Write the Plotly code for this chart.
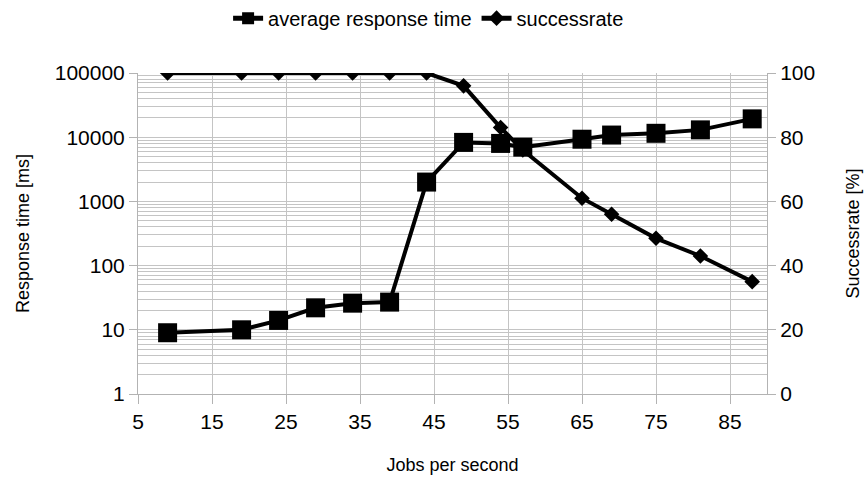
import plotly.graph_objects as go

# Load test results: throughput vs. latency and success rate
jobs_per_second = [9, 19, 24, 29, 34, 39, 44, 49, 54, 57, 65, 69, 75, 81, 88]
response_time_ms = [9, 10, 14, 22, 26, 27, 2000, 8300, 8000, 7000, 9300, 10800, 11500, 13000, 19300]
success_rate = [100, 100, 100, 100, 100, 100, 100, 96, 83, 76, 61, 56, 48.5, 43, 35]

x_ticks = [5, 15, 25, 35, 45, 55, 65, 75, 85]
y_ticks = [1, 10, 100, 1000, 10000, 100000]
y_tick_text = ["1", "10", "100", "1000", "10000", "100000"]
y2_ticks = [0, 20, 40, 60, 80, 100]

FONT = "Liberation Sans, Arial, sans-serif"
GRID = "#c4c4c4"
AXIS = "#b3b3b3"

fig = go.Figure()

fig.add_trace(go.Scatter(
    x=jobs_per_second, y=response_time_ms, name="average response time",
    mode="lines+markers",
    line=dict(color="black", width=4),
    marker=dict(symbol="square", size=19, color="black"),
))
fig.add_trace(go.Scatter(
    x=jobs_per_second, y=success_rate, name="successrate", yaxis="y2",
    mode="lines+markers",
    line=dict(color="black", width=4),
    marker=dict(symbol="diamond", size=12, color="black"),
))

fig.update_layout(
    width=865, height=478,
    margin=dict(l=138, r=98, t=73, b=84),
    paper_bgcolor="white", plot_bgcolor="white",
    font=dict(family=FONT, size=20, color="black"),
    showlegend=True,
    legend=dict(
        orientation="h", x=0.462, xanchor="center",
        yref="container", y=0.962, yanchor="middle",
        font=dict(size=20), itemwidth=30, itemsizing="constant",
        tracegroupgap=0, bgcolor="rgba(0,0,0,0)",
    ),
    xaxis=dict(
        range=[5, 90], tickmode="array", tickvals=x_ticks,
        showgrid=True, gridcolor=GRID, gridwidth=1,
        showline=True, linecolor=AXIS, linewidth=1,
        ticks="outside", ticklen=9, tickcolor=AXIS,
        zeroline=False, tickfont=dict(size=21), automargin=False,
        title=dict(text="Jobs per second", font=dict(size=18), standoff=26),
    ),
    yaxis=dict(
        type="log", range=[0, 5], tickmode="array",
        tickvals=y_ticks, ticktext=y_tick_text,
        showgrid=True, gridcolor=GRID, gridwidth=1,
        minor=dict(dtick="D1", showgrid=True, gridcolor=GRID, gridwidth=1, ticks=""),
        showline=True, linecolor=AXIS, linewidth=1,
        ticks="outside", ticklen=8, tickcolor=AXIS,
        zeroline=False, tickfont=dict(size=21), automargin=False,
        title=dict(text="Response time [ms]", font=dict(size=18), standoff=20),
    ),
    yaxis2=dict(
        overlaying="y", side="right", range=[0, 100],
        tickmode="array", tickvals=y2_ticks,
        showgrid=False, zeroline=False,
        showline=True, linecolor=AXIS, linewidth=1,
        ticks="outside", ticklen=8, tickcolor=AXIS,
        tickfont=dict(size=21), automargin=False,
        title=dict(text="Successrate [%]", font=dict(size=18), standoff=32),
    ),
)

fig.write_html("out.html")
